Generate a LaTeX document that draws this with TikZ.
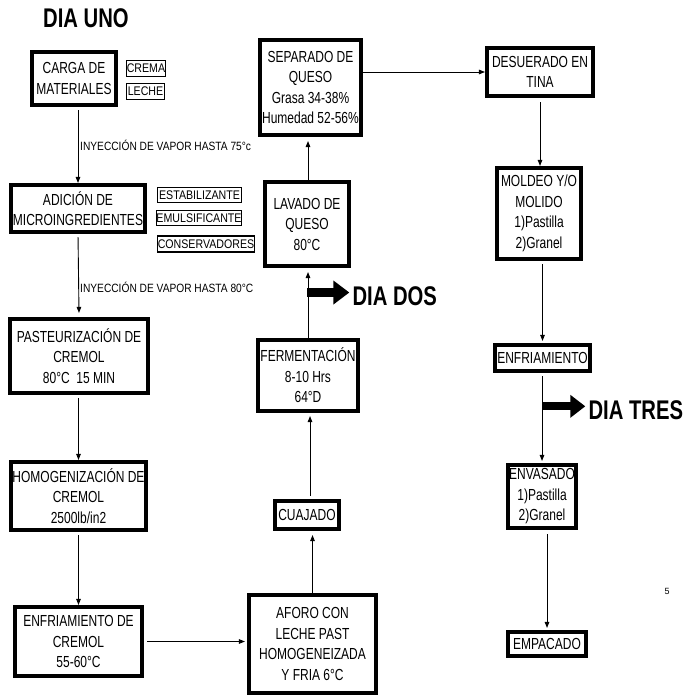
\documentclass[tikz,border=0pt]{standalone}
\usepackage{fontspec}
\setmainfont{Liberation Sans}
\newfontfamily\narrowfont[FakeStretch=0.75]{Liberation Sans}
\newfontfamily\notefont[FakeStretch=0.85]{Liberation Sans}
\usetikzlibrary{arrows.meta}

\begin{document}
\begin{tikzpicture}[x=1pt,y=-1pt,
  proc/.style={draw, line width=3.6pt, inner sep=0pt, align=center,
    font=\narrowfont\fontsize{16}{20.5}\selectfont},
  tag/.style={draw, line width=1.1pt, inner sep=0pt, align=center,
    font=\notefont\fontsize{12.5}{15}\selectfont},
  note/.style={anchor=west, inner sep=0pt,
    font=\notefont\fontsize{12}{14}\selectfont},
  flow/.style={line width=0.9pt, -{Triangle[length=6pt,width=4.5pt]}},
  daymark/.style={line width=9pt, -{Triangle[length=16pt,width=23pt]}},
  daylabel/.style={anchor=west, inner sep=0pt,
    font=\narrowfont\bfseries\fontsize{27}{30}\selectfont},
]
\useasboundingbox (0,0) rectangle (684,700);

% ---- day 1: cream preparation (left column) ----
\node[daylabel] (uno) at (43,18.5) {DIA UNO};

\node[proc, minimum width=84.5, minimum height=53.5] (carga) at (74,78.5) {CARGA DE\\MATERIALES};
\node[tag, minimum width=39, minimum height=16] (crema) at (146,68.5) {CREMA};
\node[tag, minimum width=38, minimum height=16] (leche) at (145.5,91.5) {LECHE};

\node[proc, minimum width=134.5, minimum height=47.5] (adicion) at (78,208.5) {ADICIÓN DE\\MICROINGREDIENTES};
\node[tag, minimum width=84, minimum height=15] (estab) at (199.5,195) {ESTABILIZANTE};
\node[tag, minimum width=83, minimum height=15] (emuls) at (199,218) {EMULSIFICANTE};
\node[tag, minimum width=97, minimum height=16] (conserv) at (206,244) {CONSERVADORES};

\node[proc, minimum width=138.5, minimum height=74.5] (pasteur) at (79,356) {PASTEURIZACIÓN DE\\CREMOL\\80°C\ \ 15 MIN};
\node[proc, minimum width=135.5, minimum height=68.5] (homog) at (78.5,496) {HOMOGENIZACIÓN DE\\CREMOL\\2500lb/in2};
\node[proc, minimum width=127.5, minimum height=69.5] (enfcremol) at (78.5,641.5) {ENFRIAMIENTO DE\\CREMOL\\55-60°C};

\node[note] (iny75) at (80,145) {INYECCIÓN DE VAPOR HASTA 75°c};
\node[note] (iny80) at (80,287) {INYECCIÓN DE VAPOR HASTA 80°C};

% ---- day 2: curd and cheese (middle column) ----
\node[proc, minimum width=127.5, minimum height=98.5] (aforo) at (312.5,644) {AFORO CON\\LECHE PAST\\HOMOGENEIZADA\\Y FRIA 6°C};
\node[proc, minimum width=64.5, minimum height=28.5] (cuajado) at (307,515) {CUAJADO};
\node[proc, minimum width=100.5, minimum height=71.5] (ferment) at (308,375.5) {FERMENTACIÓN\\8-10 Hrs\\64°D};
\node[proc, minimum width=84.5, minimum height=84.5] (lavado) at (307,224) {LAVADO DE\\QUESO\\80°C};
\node[proc, minimum width=101.5, minimum height=95.5] (separado) at (310.5,87.5) {SEPARADO DE\\QUESO\\Grasa 34-38\%\\Humedad 52-56\%};

% ---- day 3: whey removal and packing (right column) ----
\node[proc, minimum width=106.5, minimum height=48.5] (desuerado) at (540,72) {DESUERADO EN\\TINA};
\node[proc, minimum width=84.5, minimum height=91.5] (moldeo) at (539,213.5) {MOLDEO Y/O\\MOLIDO\\1)Pastilla\\2)Granel};
\node[proc, minimum width=95.5, minimum height=26.5] (enfriam) at (542.5,358) {ENFRIAMIENTO};
\node[proc, minimum width=68.5, minimum height=63.5] (envasado) at (542,496.5) {ENVASADO\\1)Pastilla\\2)Granel};
\node[proc, minimum width=78.5, minimum height=24.5] (empacado) at (547,644) {EMPACADO};

\node[inner sep=0pt, font=\fontsize{9}{10}\selectfont] (folio) at (667,591) {5};

% ---- flow connectors ----
\draw[flow, shorten <=3pt] (carga.south -| adicion.north) -- (adicion.north);
\draw[flow, shorten <=3pt] (adicion.south) -- ([yshift=4pt]pasteur.north);
\draw[flow, shorten <=3pt] (pasteur.south -| homog.north) -- (homog.north);
\draw[flow, shorten <=3pt] (homog.south) -- (enfcremol.north);
\draw[flow, shorten <=3pt, shorten >=2pt] (enfcremol.east) -- (enfcremol.east -| aforo.west);
\draw[flow, shorten >=4pt] (aforo.north) -- (aforo.north |- cuajado.south);
\draw[flow, shorten <=3pt, shorten >=3pt] ([xshift=3pt]cuajado.north) -- ([xshift=3pt]cuajado.north |- ferment.south);
\draw[flow, shorten >=4pt] (ferment.north) -- (ferment.north |- lavado.south);
\draw[flow, shorten >=4pt] ([xshift=1pt]lavado.north) -- ([xshift=1pt]lavado.north |- separado.south);
\draw[flow] (separado.east |- desuerado.west) -- (desuerado.west);
\draw[flow, shorten <=4pt] (desuerado.south) -- (desuerado.south |- moldeo.north);
\draw[flow, shorten <=3pt, shorten >=2pt] (moldeo.south -| enfriam.north) -- (enfriam.north);
\draw[flow, shorten <=3pt, shorten >=2pt] (envasado.north |- enfriam.south) -- (envasado.north);
\draw[flow, shorten <=4pt, shorten >=2pt] (envasado.south -| empacado.north) -- (empacado.north);

% ---- day markers branching off the flow ----
\path (ferment.north) -- (lavado.south) coordinate[pos=0.65] (dosroot);
\draw[daymark] (dosroot) -- ++(42,0) coordinate (dostip);
\node[daylabel] (dos) at ([xshift=3pt,yshift=-3.5pt]dostip) {DIA DOS};

\path (enfriam.south) -- (envasado.north) coordinate[pos=0.37] (tresroot);
\draw[daymark, line width=8pt, -{Triangle[length=15pt,width=22pt]}] ([xshift=1pt]tresroot) -- ++(42,0) coordinate (trestip);
\node[daylabel] (tres) at ([xshift=3pt,yshift=-4pt]trestip) {DIA TRES};
\end{tikzpicture}
\end{document}
